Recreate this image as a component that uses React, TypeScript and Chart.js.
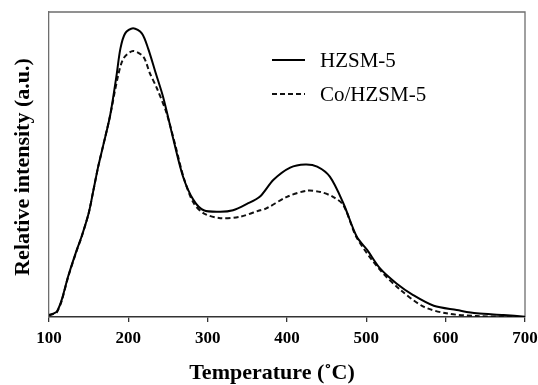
import React, { useEffect, useRef } from "react";
import { Chart, registerables } from "chart.js";

Chart.register(...registerables);

// Temperature (°C) sample positions and relative intensities (a.u., 0–100 scale)
const hzsmTemps = [100, 106, 110, 116, 124, 135, 141, 150, 156, 162, 167, 177, 185, 190, 196, 206, 217, 225, 234, 244, 257, 269, 282, 295, 316, 332, 349, 366, 383, 404, 423, 438, 454, 471, 488, 501, 517, 538, 559, 585, 614, 639, 673, 700];
const hzsmValues = [0.7, 1.2, 1.8, 5.6, 13.2, 22, 26.3, 34, 41.6, 49.3, 54.8, 66, 79, 88, 93, 94.7, 93, 88, 80.4, 72, 58, 46, 38.4, 35, 34.5, 35, 37, 39.5, 45, 49, 50, 49.3, 46, 37.3, 26.3, 22, 16, 11, 7.2, 3.7, 2.3, 1.2, 0.66, 0.1];

const coTemps = [100, 106, 110, 116, 124, 135, 141, 150, 156, 162, 167, 177, 187, 194, 206, 219, 227, 236, 248, 259, 270, 282, 295, 316, 341, 366, 374, 400, 425, 442, 458, 471, 488, 517, 543, 572, 601, 639, 700];
const coValues = [0.5, 1.0, 1.6, 5.3, 13, 21.8, 26.2, 34, 41.6, 49.3, 54.8, 66, 79, 84.8, 87.2, 85.3, 80, 75, 67, 56.5, 45.5, 37.5, 34, 32.4, 32.9, 35, 35.6, 39.4, 41.4, 41, 39.4, 36.7, 26, 15.5, 8.9, 3.4, 1.2, 0.3, 0];

const seriesLabels = ["HZSM-5", "Co/HZSM-5"];
const xTicks = [100, 200, 300, 400, 500, 600, 700];
const xTitle = "Temperature (\u02DAC)";
const yTitle = "Relative intensity (a.u.)";

const serif = "'Liberation Serif', 'Times New Roman', serif";

const framePlugin = {
  id: "frame",
  beforeDatasetsDraw(chart: any) {
    const { ctx, chartArea } = chart;
    ctx.save();
    ctx.strokeStyle = "#6e6e6e";
    ctx.lineWidth = 1.3;
    ctx.beginPath();
    ctx.moveTo(chartArea.left, chartArea.top);
    ctx.lineTo(chartArea.right, chartArea.top);
    ctx.lineTo(chartArea.right, chartArea.bottom);
    ctx.stroke();
    ctx.restore();
  },
};

const textPlugin = {
  id: "insideLegendAndTitles",
  afterDatasetsDraw(chart: any) {
    const { ctx } = chart;
    const x0 = 272;
    const x1 = 305;
    const tx = 320;
    const ys = [60, 94];
    ctx.save();
    chart.data.datasets.forEach((ds: any, i: number) => {
      ctx.strokeStyle = ds.borderColor;
      ctx.lineWidth = ds.borderWidth;
      ctx.setLineDash(ds.borderDash || []);
      ctx.beginPath();
      ctx.moveTo(x0, ys[i]);
      ctx.lineTo(x1, ys[i]);
      ctx.stroke();
      ctx.setLineDash([]);
      ctx.fillStyle = "#000";
      ctx.font = `21px ${serif}`;
      ctx.textBaseline = "middle";
      ctx.textAlign = "left";
      ctx.fillText(ds.label, tx, ys[i] + 1);
    });
    // axis titles
    ctx.fillStyle = "#000";
    ctx.font = `bold 22px ${serif}`;
    ctx.textAlign = "center";
    ctx.textBaseline = "middle";
    ctx.fillText(xTitle, 272, 373);
    ctx.translate(23, 167);
    ctx.rotate(-Math.PI / 2);
    ctx.fillText(yTitle, 0, 0);
    ctx.restore();
  },
};

export default function App() {
  const ref = useRef<HTMLCanvasElement | null>(null);

  useEffect(() => {
    if (!ref.current) return;
    const chart = new Chart(ref.current, {
      type: "line",
      data: {
        datasets: [
          {
            label: seriesLabels[0],
            data: hzsmTemps.map((t, i) => ({ x: t, y: hzsmValues[i] })),
            borderColor: "#000",
            borderWidth: 2,
            pointRadius: 0,
            tension: 0.3,
            fill: false,
          },
          {
            label: seriesLabels[1],
            data: coTemps.map((t, i) => ({ x: t, y: coValues[i] })),
            borderColor: "#111",
            borderWidth: 2,
            borderDash: [5, 3],
            pointRadius: 0,
            tension: 0.3,
            fill: false,
          },
        ],
      },
      options: {
        responsive: false,
        animation: false,
        devicePixelRatio: 1,
        layout: { padding: { top: 12, right: 13, left: 0, bottom: 0 } },
        plugins: {
          legend: { display: false },
          tooltip: { enabled: false },
        },
        scales: {
          x: {
            type: "linear",
            min: 100,
            max: 700,
            afterBuildTicks: (scale: any) => {
              scale.ticks = xTicks.map((v) => ({ value: v }));
            },
            afterFit: (scale: any) => {
              scale.height = 68;
              scale.paddingLeft = 0;
              scale.paddingRight = 0;
            },
            ticks: {
              autoSkip: false,
              maxRotation: 0,
              padding: 6,
              color: "#000",
              font: { family: serif, size: 17, weight: "bold" },
            },
            grid: {
              drawOnChartArea: false,
              drawTicks: true,
              tickLength: 5,
              color: "#333",
              lineWidth: 1.3,
            },
            border: { display: true, color: "#333", width: 1.6 },
            title: { display: false },
          },
          y: {
            min: 0,
            max: 100,
            afterFit: (scale: any) => {
              scale.width = 49;
            },
            ticks: { display: false },
            grid: { display: false, drawTicks: false },
            border: { display: true, color: "#6e6e6e", width: 1.3 },
            title: { display: false },
          },
        },
      },
      plugins: [framePlugin, textPlugin],
    });
    return () => chart.destroy();
  }, []);

  return (
    <div style={{ position: "fixed", left: 0, top: 0, width: 538, height: 385, background: "#fff" }}>
      <canvas ref={ref} width={538} height={385} />
    </div>
  );
}
